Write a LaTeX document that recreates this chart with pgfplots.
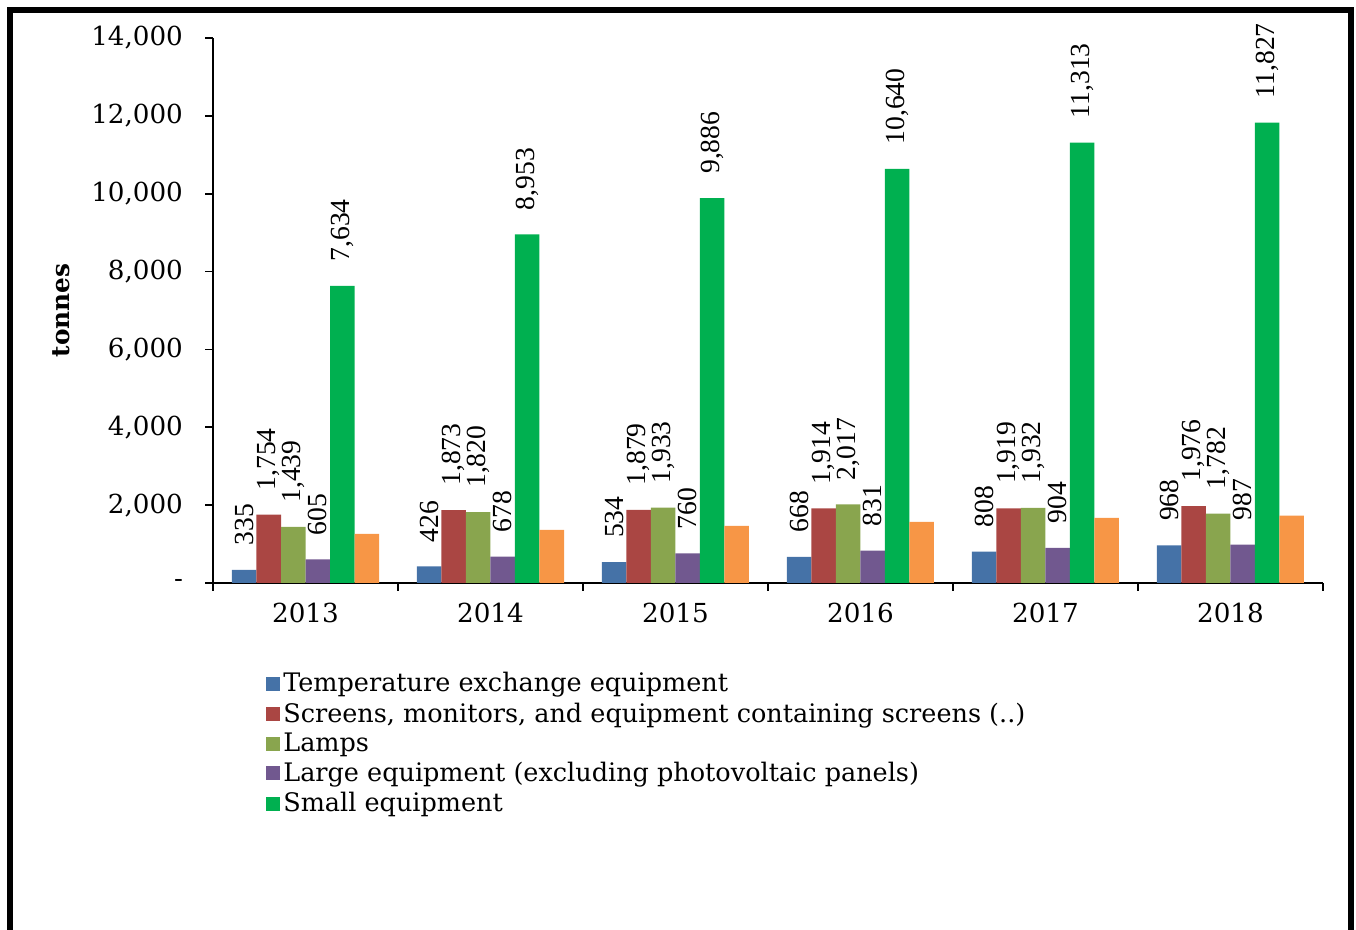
\documentclass[border=0pt]{standalone}
\usepackage{fontspec}
\setmainfont{DejaVu Serif}
\newfontfamily\lblfamily{Liberation Serif}
\usepackage{pgfplots}
\pgfplotsset{compat=1.18}
\definecolor{cTemp}{HTML}{4572A7}
\definecolor{cScreen}{HTML}{AA4643}
\definecolor{cLamp}{HTML}{89A54E}
\definecolor{cLarge}{HTML}{71588F}
\definecolor{cSmall}{HTML}{00B050}
\definecolor{cOther}{HTML}{F79646}
\newcommand{\lblfont}{\lblfamily\fontsize{13.8}{14}\selectfont}
\begin{document}
\begin{tikzpicture}
\path[use as bounding box] (0,0) rectangle (678pt,465pt);
\begin{axis}[
  at={(106.5pt,173.5pt)}, anchor=south west,
  scale only axis, width=555pt, height=272.5pt,
  ybar=0pt, bar width=12.25pt,
  xmin=-0.5, xmax=5.5, ymin=0, ymax=14000,
  axis lines*=left, axis line style={line width=1pt},
  tick align=outside,
  xtick={0,...,5}, xticklabels={2013,2014,2015,2016,2017,2018},
  minor xtick={-0.5,0.5,...,5.5},
  major x tick style={draw=none},
  minor tick length=4pt, major tick length=4pt,
  tick style={black, line width=0.8pt},
  scaled y ticks=false,
  ytick={0,2000,...,14000},
  yticklabels={-,{2,000},{4,000},{6,000},{8,000},{10,000},{12,000},{14,000}},
  tick label style={font=\fontsize{13.1}{14}\selectfont},
  yticklabel style={xshift=-7.5pt},
  xticklabel style={yshift=-2.5pt},
  /pgf/number format/assume math mode=true,
  /pgf/number format/1000 sep={,},
  ylabel={\textbf{tonnes}},
  ylabel style={font=\fontsize{12.4}{14}\selectfont, at={(axis description cs:-0.137,0.5)}, anchor=center},
  every node near coord/.append style={rotate=90, anchor=west, inner ysep=0pt, inner xsep=12pt, font=\lblfont, black},
  legend image code/.code={\fill[#1,draw=none] (0pt,-3.5pt) rectangle (7pt,3.5pt);},
  legend style={draw=none, fill=none, at={(0.0477,-0.158)}, anchor=north west,
    font=\fontsize{12.75}{15}\selectfont, inner sep=0pt, row sep=0.9pt,
    nodes={inner sep=1.5pt}, cells={anchor=west}},
  legend cell align=left,
]
\addplot[fill=cTemp, draw=none, nodes near coords] coordinates {(0,335) (1,426) (2,534) (3,668) (4,808) (5,968)};
\addplot[fill=cScreen, draw=none, nodes near coords] coordinates {(0,1754) (1,1873) (2,1879) (3,1914) (4,1919) (5,1976)};
\addplot[fill=cLamp, draw=none, nodes near coords] coordinates {(0,1439) (1,1820) (2,1933) (3,2017) (4,1932) (5,1782)};
\addplot[fill=cLarge, draw=none, nodes near coords] coordinates {(0,605) (1,678) (2,760) (3,831) (4,904) (5,987)};
\addplot[fill=cSmall, draw=none, nodes near coords] coordinates {(0,7634) (1,8953) (2,9886) (3,10640) (4,11313) (5,11827)};
\addplot[fill=cOther, draw=none] coordinates {(0,1260) (1,1365) (2,1470) (3,1570) (4,1670) (5,1730)};
\legend{Temperature exchange equipment,
  {Screens, monitors, and equipment containing screens (..)},
  Lamps,
  Large equipment (excluding photovoltaic panels),
  Small equipment}
\end{axis}
\draw[line width=3pt] (5pt,-10pt) -- (5pt,460pt) -- (675.5pt,460pt) -- (675.5pt,-10pt);
\end{tikzpicture}
\end{document}
